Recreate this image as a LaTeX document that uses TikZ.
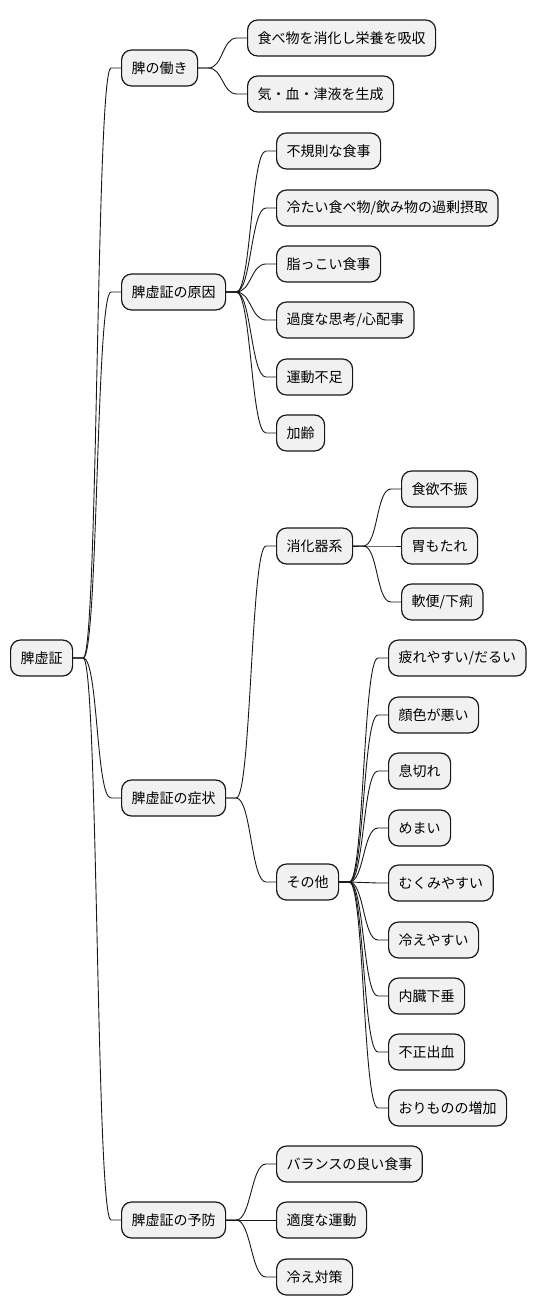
\documentclass[tikz,border=0pt]{standalone}
\usepackage{fontspec}
\setmainfont{Noto Sans CJK JP}
\definecolor{boxfill}{HTML}{F1F1F1}
\definecolor{ink}{HTML}{181818}
\tikzset{
  mmbox/.style={draw=ink, fill=boxfill, line width=1.2pt, rounded corners=10pt,
    minimum height=36pt, inner xsep=10pt, inner ysep=0pt, anchor=west,
    font=\fontsize{14pt}{16pt}\selectfont, text=black},
  conn/.style={draw=ink, line width=0.9pt}
}
\newcommand\mmconn[2]{\draw[conn] (#1.east) -- ([xshift=10pt]#1.east) .. controls ([xshift=25pt]#1.east) and ([xshift=-25pt]#2.west) .. ([xshift=-10pt]#2.west) -- (#2.west);}
\begin{document}
\begin{tikzpicture}[x=1pt,y=-1pt]
\useasboundingbox (0,0) rectangle (535,1315);
\node[mmbox] (r) at (10,658) {脾虚証};
\node[mmbox] (w) at (121,68) {脾の働き};
\node[mmbox] (w1) at (247,38) {食べ物を消化し栄養を吸収};
\node[mmbox] (w2) at (247,94) {気・血・津液を生成};
\node[mmbox] (c) at (121,292) {脾虚証の原因};
\node[mmbox] (c1) at (276,151) {不規則な食事};
\node[mmbox] (c2) at (276,208) {冷たい食べ物/飲み物の過剰摂取};
\node[mmbox] (c3) at (276,264) {脂っこい食事};
\node[mmbox] (c4) at (276,320) {過度な思考/心配事};
\node[mmbox] (c5) at (276,377) {運動不足};
\node[mmbox] (c6) at (276,433) {加齢};
\node[mmbox] (s) at (121,798) {脾虚証の症状};
\node[mmbox] (s1) at (276,546) {消化器系};
\node[mmbox] (s11) at (401,489) {食欲不振};
\node[mmbox] (s12) at (401,546) {胃もたれ};
\node[mmbox] (s13) at (401,602) {軟便/下痢};
\node[mmbox] (s2) at (276,882) {その他};
\node[mmbox] (s21) at (388,658) {疲れやすい/だるい};
\node[mmbox] (s22) at (388,715) {顔色が悪い};
\node[mmbox] (s23) at (388,771) {息切れ};
\node[mmbox] (s24) at (388,828) {めまい};
\node[mmbox] (s25) at (388,883) {むくみやすい};
\node[mmbox] (s26) at (388,940) {冷えやすい};
\node[mmbox] (s27) at (388,996) {内臓下垂};
\node[mmbox] (s28) at (388,1052) {不正出血};
\node[mmbox] (s29) at (388,1108) {おりものの増加};
\node[mmbox] (p) at (121,1220) {脾虚証の予防};
\node[mmbox] (p1) at (276,1164) {バランスの良い食事};
\node[mmbox] (p2) at (276,1220) {適度な運動};
\node[mmbox] (p3) at (276,1277) {冷え対策};
\foreach \a/\b in {r/w,r/c,r/s,r/p,w/w1,w/w2,c/c1,c/c2,c/c3,c/c4,c/c5,c/c6,
  s/s1,s/s2,s1/s11,s1/s12,s1/s13,s2/s21,s2/s22,s2/s23,s2/s24,s2/s25,s2/s26,s2/s27,s2/s28,s2/s29,
  p/p1,p/p2,p/p3}{\mmconn{\a}{\b}}
\end{tikzpicture}
\end{document}
